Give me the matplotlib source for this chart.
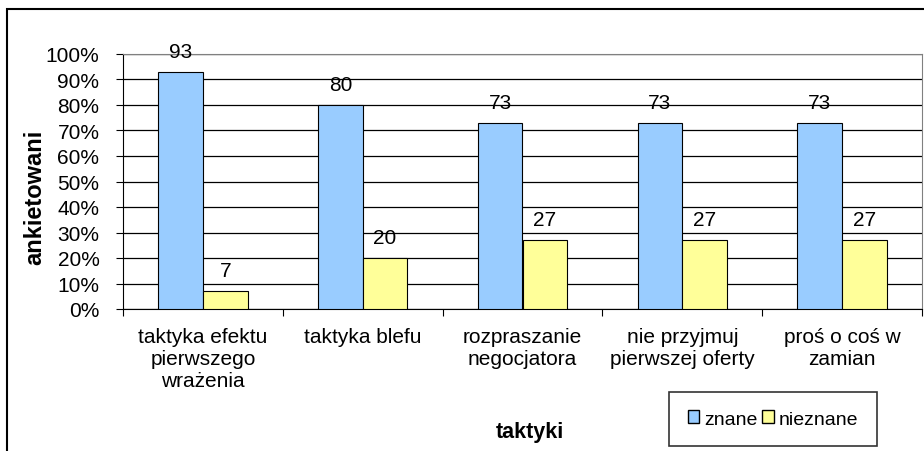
import matplotlib
matplotlib.use("Agg")
import matplotlib.pyplot as plt
from matplotlib.patches import Rectangle, Patch
import numpy as np

categories = ["taktyka efektu\npierwszego\nwrażenia", "taktyka blefu",
              "rozpraszanie\nnegocjatora", "nie przyjmuj\npierwszej oferty",
              "proś o coś w\nzamian"]
znane = [93, 80, 73, 73, 73]
nieznane = [7, 20, 27, 27, 27]
yticks = [0, 10, 20, 30, 40, 50, 60, 70, 80, 90, 100]
ytick_labels = ["0%", "10%", "20%", "30%", "40%", "50%", "60%", "70%", "80%", "90%", "100%"]

plt.rcParams['font.family'] = ['Liberation Sans', 'DejaVu Sans']

fig = plt.figure(figsize=(9.24, 4.52), dpi=100)
fig.patch.set_facecolor('white')
# outer frame
fig.patches.append(Rectangle((7/924, -0.1), 1.0, 1 - 10/452 + 0.1, transform=fig.transFigure,
                             fill=False, edgecolor='black', linewidth=1.5))

ax = fig.add_axes([123/924, 1 - 310/452, (922 - 123)/924, (310 - 55)/452])
x = np.arange(len(categories))
w = 0.28
b1 = ax.bar(x - w/2, znane, w, color='#99ccff', edgecolor='black', linewidth=0.8, zorder=3, label='znane')
b2 = ax.bar(x + w/2, nieznane, w, color='#ffff99', edgecolor='black', linewidth=0.8, zorder=3, label='nieznane')
for rect, v in list(zip(b1, znane)) + list(zip(b2, nieznane)):
    ax.annotate(str(v), (rect.get_x() + rect.get_width()/2, v), xytext=(0, 8),
                textcoords='offset points', ha='center', va='bottom',
                fontsize=15, zorder=4, annotation_clip=False)

ax.set_xlim(-0.5, len(categories) - 0.5)
ax.set_ylim(0, 100)
ax.set_yticks(yticks)
ax.set_yticklabels(ytick_labels, fontsize=15)
ax.yaxis.grid(True, color='black', linewidth=0.9, zorder=0)
ax.set_xticks(np.arange(len(categories) + 1) - 0.5, minor=False)
ax.set_xticklabels([])
ax.set_xticks(x, minor=True)
ax.set_xticklabels(categories, minor=True, fontsize=15, linespacing=1.2)
ax.tick_params(axis='x', which='minor', length=0, pad=13)
ax.tick_params(axis='x', which='major', length=5, direction='out')
ax.tick_params(axis='y', length=5, direction='out', pad=12)
for s in ['top', 'right']:
    ax.spines[s].set_color('#808080')
ax.spines['left'].set_color('black')
ax.spines['bottom'].set_color('black')

fig.text(35/924, 1 - 197/452, 'ankietowani', rotation=90, ha='center', va='center',
         fontsize=17, fontweight='bold')
fig.text(530/924, 1 - 433/452, 'taktyki', ha='center', va='center', fontsize=15.5, fontweight='bold')

handles = [Patch(facecolor='#99ccff', edgecolor='black'), Patch(facecolor='#ffff99', edgecolor='black')]
leg = fig.legend(handles, ['znane', 'nieznane'], loc='center', bbox_to_anchor=(773/924, 1 - 420/452),
                 ncol=2, fontsize=14, frameon=True, fancybox=False, edgecolor='black',
                 handlelength=0.6, handleheight=0.6, handletextpad=0.25, columnspacing=0.25,
                 borderpad=0.95, borderaxespad=0)
leg.get_frame().set_linewidth(1.2)

fig.savefig('out.png', dpi=100)
